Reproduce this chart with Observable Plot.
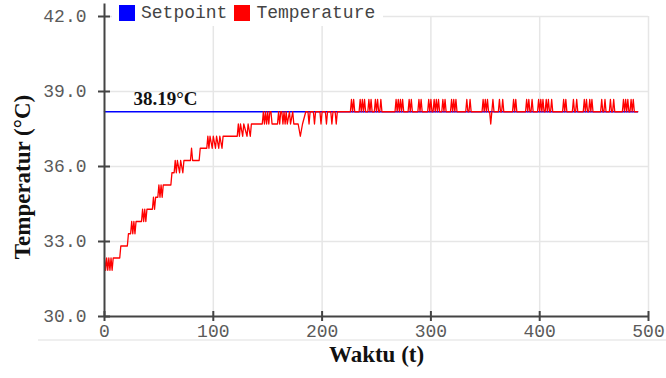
<!DOCTYPE html>
<html>
<head>
<meta charset="utf-8">
<script src="https://cdn.jsdelivr.net/npm/d3@7"></script>
<script src="https://cdn.jsdelivr.net/npm/@observablehq/plot@0.6"></script>
<style>
  html, body { margin: 0; padding: 0; background: #fff; }
  #chart { position: relative; width: 666px; height: 378px; overflow: hidden; }
  #chart svg { position: absolute; left: 0; top: 0; }
  .legend { position: absolute; left: 112px; top: 0; height: 26px; padding-right: 8px;
            background: #fff; display: flex; align-items: center;
            font-family: "Liberation Mono", "DejaVu Sans Mono", monospace; font-size: 18px; color: #444; }
  .legend .sw { width: 16px; height: 16px; margin: 0 6px 0 7px; }
  .legend .item { display: flex; align-items: center; }
  .ytitle { position: absolute; left: 22px; top: 177px; transform: translate(-50%, -50%) rotate(-90deg);
            white-space: nowrap; font-family: "Liberation Serif", "Times New Roman", serif;
            font-weight: bold; font-size: 23px; color: #111; line-height: 1; }
  .baseline { position: absolute; left: 38px; right: 0; top: 339px; height: 2px; background: #efefef; }
</style>
</head>
<body>
<div id="chart"></div>
<script>
// Axis ticks
const xTicks = [0, 100, 200, 300, 400, 500];
const yTicks = [30, 33, 36, 39, 42];

// Setpoint (°C) and the time span it is held over
const setpoint = 38.19;
const setpointSpan = [0, 490];

// Heating phase: [time (t), temperature °C]
const heatingPhase = [
  [0, 32.34], [1, 31.85], [2, 32.34], [3, 31.85], [4, 32.34], [5, 31.85], [6, 32.34], [7, 31.85], [8, 32.34], [14, 32.34],
  [15, 32.82], [21, 32.82],
  [22, 33.31], [24, 33.31], [25, 33.80], [26, 33.31], [27, 33.80], [28, 33.31], [29, 33.80], [34, 33.80],
  [35, 34.29], [36, 33.80], [37, 34.29], [38, 33.80], [39, 34.29], [44, 34.29],
  [45, 34.77], [46, 34.29], [47, 34.77], [49, 34.77],
  [50, 35.26], [51, 34.77], [52, 35.26], [53, 34.77], [54, 35.26], [61, 35.26],
  [62, 35.75], [64, 35.75], [65, 36.24], [66, 35.75], [67, 36.24], [69, 35.75], [70, 36.24], [72, 35.75], [73, 36.24], [79, 36.24],
  [80, 36.73], [81, 36.24], [87, 36.24],
  [88, 36.73], [94, 36.73],
  [95, 37.21], [96, 36.73], [97, 37.21], [99, 36.73], [100, 37.21], [102, 36.73], [103, 37.21], [105, 36.73], [106, 37.21], [108, 36.73], [109, 37.21], [122, 37.21],
  [123, 37.70], [124, 37.21], [125, 37.70], [127, 37.21], [128, 37.70], [131, 37.21], [132, 37.70], [134, 37.21], [135, 37.70], [145, 37.70],
  [146, 38.19], [147, 37.70], [148, 38.19], [149, 37.70], [150, 38.19], [151, 37.70], [152, 38.19], [153, 38.19], [154, 37.70], [159, 37.70],
  [160, 38.19], [161, 37.70], [162, 38.19], [163, 38.19], [164, 37.70], [165, 38.19], [166, 37.70], [167, 38.19], [168, 37.70], [170, 38.19], [171, 37.70], [173, 38.19], [174, 37.70], [178, 37.70],
  [180, 37.21], [182, 37.70], [185, 38.19], [187, 38.19], [188, 37.70], [189, 38.19], [192, 38.19], [193, 37.70], [194, 38.19],
  [198, 38.19], [199, 37.70], [200, 38.19], [203, 38.19], [204, 37.70], [205, 38.19], [208, 38.19], [209, 37.70], [210, 38.19],
  [212, 38.19], [213, 37.70], [214, 38.19]
];

// Steady state: single-sample readings that leave the setpoint level [time (t), °C]
const steadyEvents = [
  [227, 38.68], [229, 38.68], [235, 38.68], [237, 38.68], [239, 38.68], [243, 38.68], [245, 38.68], [249, 38.68], [251, 38.68], [254, 38.68],
  [268, 38.68], [270, 38.68], [272, 38.68], [274, 38.68], [280, 38.68], [282, 38.68], [289, 38.68], [291, 38.68],
  [298, 38.68], [300, 38.68], [303, 38.68], [305, 38.68], [307, 38.68], [311, 38.68], [313, 38.68], [319, 38.68], [321, 38.68], [323, 38.68],
  [333, 38.68], [336, 38.68], [348, 38.68], [350, 38.68], [352, 38.68], [355, 37.70], [357, 38.68], [363, 38.68], [366, 38.68],
  [376, 38.68], [378, 38.68], [388, 38.68], [390, 38.68], [393, 38.68], [399, 38.68], [401, 38.68], [403, 38.68], [406, 38.68], [408, 38.68], [411, 38.68],
  [422, 38.68], [424, 38.68], [431, 38.68], [434, 38.68], [441, 38.68], [443, 38.68], [446, 38.68], [448, 38.68],
  [457, 38.68], [460, 38.68], [465, 38.68], [468, 38.68], [477, 38.68], [479, 38.68], [481, 38.68], [484, 38.68], [486, 38.68]
];
const steadyEnd = 490;

// Assemble the full temperature trace
const temperature = heatingPhase.map(([t, v]) => ({t, v}));
for (const [t, v] of steadyEvents) {
  temperature.push({t: t - 1, v: setpoint}, {t, v}, {t: t + 1, v: setpoint});
}
temperature.push({t: steadyEnd, v: setpoint});

const setpointLine = setpointSpan.map(t => ({t, v: setpoint}));

const mono = "Liberation Mono, DejaVu Sans Mono, monospace";
const serif = "Liberation Serif, Times New Roman, serif";
const axisColor = "#444";
const tickText = "#5a5a5a";

const svg = Plot.plot({
  width: 666,
  height: 378,
  marginLeft: 104,
  marginRight: 18,
  marginTop: 3.5,
  marginBottom: 62,
  style: {background: "transparent", overflow: "visible"},
  x: {domain: [0, 500]},
  y: {domain: [30, 42.5]},
  marks: [
    // light grid
    Plot.ruleX(xTicks.slice(1), {x: d => d, y1: yTicks[0], y2: yTicks[yTicks.length - 1], stroke: "#e6e6e6", strokeWidth: 1.5}),
    Plot.ruleY(yTicks.slice(1), {y: d => d, x1: xTicks[0], x2: xTicks[xTicks.length - 1], stroke: "#e6e6e6", strokeWidth: 1.5}),
    // setpoint and measured temperature
    Plot.line(setpointLine, {x: "t", y: "v", stroke: "#0000ff", strokeWidth: 1.5}),
    Plot.line(temperature, {x: "t", y: "v", stroke: "#ff0000", strokeWidth: 1.3}),
    // axis lines
    Plot.ruleX([xTicks[0]], {stroke: axisColor, strokeWidth: 2}),
    Plot.ruleY([yTicks[0]], {x1: xTicks[0], x2: xTicks[xTicks.length - 1], stroke: axisColor, strokeWidth: 2}),
    // x axis: labelled ticks below, plus the inner half of each tick
    Plot.axisX(xTicks, {tickSize: 5, tickPadding: 3, stroke: axisColor, strokeWidth: 2, fill: tickText,
      fontFamily: mono, fontSize: 18, tickFormat: d => String(d), label: null}),
    Plot.axisX(xTicks, {tickSize: 5, dy: -5, stroke: axisColor, strokeWidth: 2, tickFormat: () => "", label: null}),
    // y axis
    Plot.axisY(yTicks, {tickSize: 6, tickPadding: 12, stroke: axisColor, strokeWidth: 2, fill: tickText,
      fontFamily: mono, fontSize: 18, tickFormat: d3.format(".1f"), label: null}),
    Plot.axisY(yTicks, {tickSize: 6, dx: 6, stroke: axisColor, strokeWidth: 2, tickFormat: () => "", label: null}),
    // setpoint annotation
    Plot.text([setpoint], {x: setpointSpan[0], y: d => d, text: d => `${d}°C`, textAnchor: "start", lineAnchor: "bottom",
      dx: 29, dy: -7, fontFamily: serif, fontWeight: "bold", fontSize: 19, fill: "#111"}),
    // x axis title
    Plot.text(["Waktu (t)"], {text: d => d, frameAnchor: "bottom", dy: 45,
      fontFamily: serif, fontWeight: "bold", fontSize: 23, fill: "#111"})
  ]
});

const chart = document.getElementById("chart");
chart.appendChild(svg);

const base = document.createElement("div");
base.className = "baseline";
chart.appendChild(base);

// y axis title
const ytitle = document.createElement("div");
ytitle.className = "ytitle";
ytitle.textContent = "Temperatur (°C)";
chart.appendChild(ytitle);

// legend
const series = [
  {name: "Setpoint", color: "#0000ff"},
  {name: "Temperature", color: "#ff0000"}
];
const legend = document.createElement("div");
legend.className = "legend";
for (const s of series) {
  const item = document.createElement("span");
  item.className = "item";
  const sw = document.createElement("span");
  sw.className = "sw";
  sw.style.background = s.color;
  const label = document.createElement("span");
  label.textContent = s.name;
  item.append(sw, label);
  legend.appendChild(item);
}
chart.appendChild(legend);
</script>
</body>
</html>
